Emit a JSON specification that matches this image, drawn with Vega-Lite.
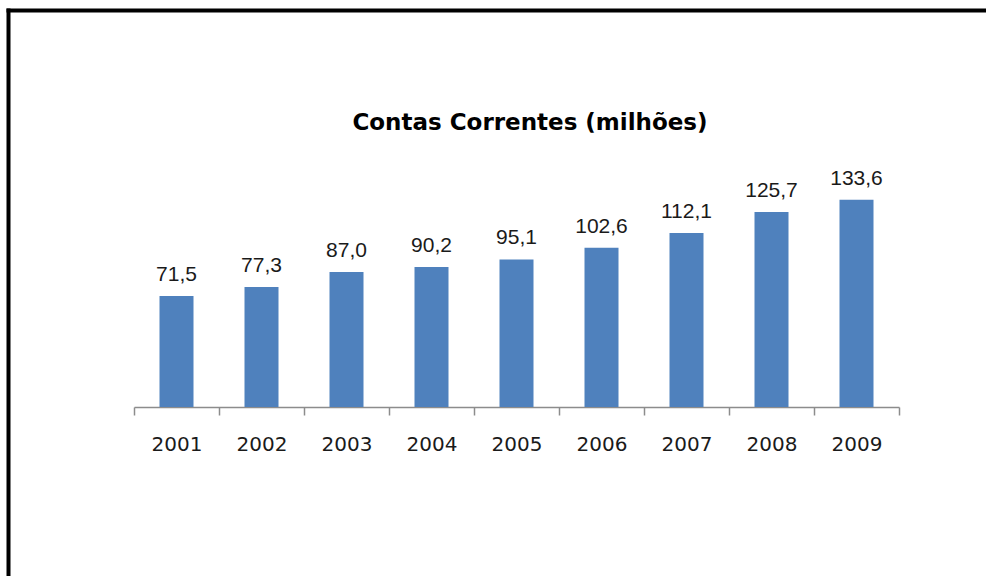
{
  "$schema": "https://vega.github.io/schema/vega-lite/v6.json",
  "autosize": {"type": "none"},
  "padding": {"left": 8, "top": 10, "right": 0, "bottom": 0},
  "width": 1100,
  "height": 600,
  "background": "white",
  "config": {
    "view": {"stroke": null},
    "locale": {"number": {"decimal": ",", "thousands": ".", "grouping": [3], "currency": ["", ""]}}
  },
  "title": {
    "text": "Contas Correntes (milhões)",
    "font": "DejaVu Sans",
    "fontWeight": "bold",
    "fontSize": 23,
    "color": "#000000",
    "anchor": "middle",
    "baseline": "alphabetic",
    "offset": -143,
    "dx": -28
  },
  "data": {
    "values": [
      {"ano": "2001", "valor": 71.5},
      {"ano": "2002", "valor": 77.3},
      {"ano": "2003", "valor": 87.0},
      {"ano": "2004", "valor": 90.2},
      {"ano": "2005", "valor": 95.1},
      {"ano": "2006", "valor": 102.6},
      {"ano": "2007", "valor": 112.1},
      {"ano": "2008", "valor": 125.7},
      {"ano": "2009", "valor": 133.6}
    ]
  },
  "resolve": {"scale": {"x": "independent"}, "axis": {"x": "independent"}},
  "layer": [
    {
      "mark": {"type": "rule", "opacity": 0},
      "encoding": {
        "x": {
          "datum": 0,
          "type": "quantitative",
          "scale": {"domain": [0, 1]},
          "axis": {"orient": "top", "title": null, "ticks": false, "labels": false, "grid": false, "domainColor": "#000000", "domainWidth": 4, "domainCap": "square"}
        }
      }
    },
    {
      "encoding": {
        "x": {
          "field": "ano",
          "type": "ordinal",
          "scale": {"paddingInner": 0, "paddingOuter": 0, "range": [126, 891]},
          "axis": {
            "title": null,
            "orient": "bottom",
            "offset": -203,
            "domainColor": "#8c8c8c",
            "domainWidth": 1.5,
            "tickBand": "extent",
            "tickColor": "#8c8c8c",
            "tickWidth": 1.5,
            "tickSize": 8,
            "labelAngle": 0,
            "labelFont": "DejaVu Sans",
            "labelFontSize": 20,
            "labelColor": "#1a1a1a",
            "labelPadding": 19
          }
        }
      },
      "layer": [
        {
          "mark": {"type": "bar", "color": "#4F81BD", "width": {"band": 0.4}},
          "encoding": {
            "y": {
              "field": "valor",
              "type": "quantitative",
              "scale": {"domain": [-131, 256], "nice": false, "zero": false},
              "axis": {"orient": "left", "title": null, "ticks": false, "labels": false, "grid": false, "domainColor": "#000000", "domainWidth": 4, "domainCap": "square"}
            }
          }
        },
        {
          "mark": {"type": "text", "baseline": "alphabetic", "dy": -15, "font": "Liberation Sans", "fontSize": 21, "color": "#1a1a1a"},
          "encoding": {
            "y": {"field": "valor", "type": "quantitative"},
            "text": {"field": "valor", "type": "quantitative", "format": ".1f"}
          }
        }
      ]
    }
  ]
}
